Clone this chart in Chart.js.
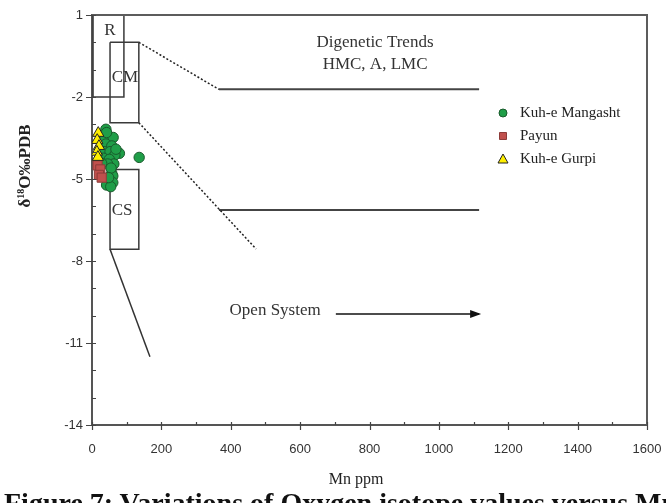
<!DOCTYPE html>
<html lang="en">
<head>
    <meta charset="UTF-8">
    <title>Mn vs δ18O</title>
    <script src="https://cdn.jsdelivr.net/npm/chart.js"></script>
    <style>
        body {
            margin: 0;
            background: #fff;
            overflow: hidden;
        }

        .wrap {
            position: relative;
            width: 666px;
            height: 503px;
            overflow: hidden;
        }

        .caption {
            position: absolute;
            left: 4px;
            top: 487px;
            font-family: "Liberation Serif", serif;
            font-weight: bold;
            font-size: 28px;
            white-space: nowrap;
            color: #111;
        }
    </style>
</head>
<body>
<div class="wrap">
    <canvas id="chart" width="666" height="503"></canvas>
    <div class="caption">Figure 7: Variations of Oxygen isotope values versus Mn</div>
</div>

<script>
    // tick labels
    const xTicks = [0, 200, 400, 600, 800, 1000, 1200, 1400, 1600];
    const yTicks = [1, -2, -5, -8, -11, -14];

    // samples (Mn ppm, δ18O)
    const mangashtMn = [40, 49, 37, 61, 40, 57, 79, 35, 52, 66, 33, 50, 63, 45, 28, 57, 60, 47, 60, 42, 54, 136, 69, 42, 55, 48];
    const mangashtO = [-3.18, -3.45, -3.51, -3.48, -3.72, -3.79, -4.06, -4.0, -4.0, -4.12, -4.24, -4.28, -4.45, -4.45, -4.43, -4.79, -4.89, -5.1, -5.13, -5.22, -5.28, -4.21, -3.91, -3.3, -4.6, -4.95];
    const payunMn = [16, 24, 20, 28];
    const payunO = [-4.5, -4.65, -4.85, -4.95];
    const gurpiMn = [18, 15, 20, 14, 17];
    const gurpiO = [-3.32, -3.58, -3.8, -4.01, -4.2];

    // field boxes and trend lines (Mn, δ18O)
    const boxRMn = [3, 92, 92, 3, 3];
    const boxRO = [1, 1, -2, -2, 1];
    const boxCMMn = [52, 135, 135, 52, 52];
    const boxCMO = [0, 0, -2.94, -2.94, 0];
    const boxCSMn = [52, 135, 135, 52, 52];
    const boxCSO = [-4.65, -4.65, -7.57, -7.57, -4.65];
    const upperDotMn = [135, 366];
    const upperDotO = [0, -1.72];
    const upperTrendMn = [366, 1116];
    const upperTrendO = [-1.72, -1.72];
    const lowerDotMn = [135, 473];
    const lowerDotO = [-2.94, -7.56];
    const lowerTrendMn = [366, 1116];
    const lowerTrendO = [-6.13, -6.13];
    const csTailMn = [52, 167];
    const csTailO = [-7.57, -11.5];
    const openArrowMn = [703, 1116];
    const openArrowO = [-9.94, -9.94];

    // text labels in the plot (Mn, δ18O)
    const notes = [
        { text: 'R', mn: 52, o: 0.42 },
        { text: 'CM', mn: 95, o: -1.3 },
        { text: 'CS', mn: 87, o: -6.17 },
        { text: 'Digenetic Trends', mn: 816, o: -0.02 },
        { text: 'HMC, A, LMC', mn: 816, o: -0.8 },
        { text: 'Open System', mn: 528, o: -9.8 }
    ];

    const pts = (xs, ys) => xs.map((v, i) => ({ x: v, y: ys[i] }));

    function shape(xs, ys, color, width, dash) {
        return {
            data: pts(xs, ys),
            showLine: true,
            borderColor: color,
            borderWidth: width,
            borderDash: dash || [],
            pointRadius: 0,
            fill: false,
            order: 10
        };
    }

    const seriesStyle = [
        { label: 'Kuh-e Mangasht', fill: '#1f9e48', stroke: '#1a5a2c', style: 'circle' },
        { label: 'Payun', fill: '#c0504d', stroke: '#8c3b39', style: 'rect' },
        { label: 'Kuh-e Gurpi', fill: '#ffef00', stroke: '#222', style: 'triangle' }
    ];

    const decor = {
        id: 'decor',
        afterDraw(chart) {
            const { ctx, chartArea: a, scales: { x, y } } = chart;
            ctx.save();

            // frame top + right
            ctx.strokeStyle = '#5c5c5c';
            ctx.lineWidth = 2;
            ctx.beginPath();
            ctx.moveTo(a.left, a.top);
            ctx.lineTo(a.right, a.top);
            ctx.lineTo(a.right, a.bottom);
            ctx.stroke();

            // ticks
            ctx.strokeStyle = '#444';
            ctx.lineWidth = 1.2;
            ctx.beginPath();
            for (let v = 0; v <= 1600; v += 100) {
                const px = Math.round(x.getPixelForValue(v)) + 0.5;
                const major = v % 200 === 0;
                ctx.moveTo(px, a.bottom - 3);
                ctx.lineTo(px, a.bottom + (major ? 5 : 0));
            }
            for (let v = -14; v <= 1; v += 1) {
                const py = Math.round(y.getPixelForValue(v)) + 0.5;
                const major = yTicks.includes(v);
                ctx.moveTo(a.left - (major ? 6 : 0), py);
                ctx.lineTo(a.left + 4, py);
            }
            ctx.stroke();

            // arrow head
            const ax = x.getPixelForValue(openArrowMn[1]);
            const ay = y.getPixelForValue(openArrowO[1]);
            ctx.fillStyle = '#111';
            ctx.beginPath();
            ctx.moveTo(ax + 2, ay);
            ctx.lineTo(ax - 9, ay - 4);
            ctx.lineTo(ax - 9, ay + 4);
            ctx.closePath();
            ctx.fill();

            // notes
            ctx.fillStyle = '#333';
            ctx.font = '17px "Liberation Serif"';
            ctx.textAlign = 'center';
            ctx.textBaseline = 'middle';
            notes.forEach(n => {
                ctx.fillText(n.text, x.getPixelForValue(n.mn), y.getPixelForValue(n.o));
            });

            // legend
            ctx.textAlign = 'left';
            ctx.font = '15px "Liberation Serif"';
            seriesStyle.forEach((s, i) => {
                const ly = 113 + i * 23;
                const lx = 503;
                ctx.fillStyle = s.fill;
                ctx.strokeStyle = s.stroke;
                ctx.lineWidth = 1;
                ctx.beginPath();
                if (s.style === 'circle') {
                    ctx.arc(lx, ly, 4, 0, Math.PI * 2);
                } else if (s.style === 'rect') {
                    ctx.rect(lx - 3.5, ly - 3.5, 7, 7);
                } else {
                    ctx.moveTo(lx, ly - 5);
                    ctx.lineTo(lx + 5, ly + 4);
                    ctx.lineTo(lx - 5, ly + 4);
                    ctx.closePath();
                }
                ctx.fill();
                ctx.stroke();
                ctx.fillStyle = '#222';
                ctx.fillText(s.label, lx + 17, ly);
            });

            // axis titles
            ctx.fillStyle = '#222';
            ctx.textAlign = 'center';
            ctx.font = '16px "Liberation Serif"';
            ctx.fillText('Mn ppm', 356, 480);

            ctx.translate(26, 166);
            ctx.rotate(-Math.PI / 2);
            ctx.font = 'bold 17px "Liberation Serif"';
            const t1 = 'δ', t2 = '18', t3 = 'O‰PDB';
            const w1 = ctx.measureText(t1).width;
            const w3 = ctx.measureText(t3).width;
            ctx.font = 'bold 10px "Liberation Serif"';
            const w2 = ctx.measureText(t2).width;
            let sx = -(w1 + w2 + w3) / 2;
            ctx.textAlign = 'left';
            ctx.font = 'bold 17px "Liberation Serif"';
            ctx.fillText(t1, sx, 0);
            ctx.font = 'bold 10px "Liberation Serif"';
            ctx.fillText(t2, sx + w1, -5);
            ctx.font = 'bold 17px "Liberation Serif"';
            ctx.fillText(t3, sx + w1 + w2, 0);

            ctx.restore();
        }
    };

    const ctx = document.getElementById('chart').getContext('2d');
    const chart = new Chart(ctx, {
        type: 'scatter',
        data: {
            datasets: [
                {
                    label: 'Kuh-e Gurpi',
                    data: pts(gurpiMn, gurpiO),
                    pointStyle: 'triangle',
                    pointRadius: 6.5,
                    backgroundColor: seriesStyle[2].fill,
                    borderColor: seriesStyle[2].stroke,
                    borderWidth: 1,
                    order: 1
                },
                {
                    label: 'Payun',
                    data: pts(payunMn, payunO),
                    pointStyle: 'rect',
                    pointRadius: 6.5,
                    backgroundColor: seriesStyle[1].fill,
                    borderColor: seriesStyle[1].stroke,
                    borderWidth: 1,
                    order: 2
                },
                {
                    label: 'Kuh-e Mangasht',
                    data: pts(mangashtMn, mangashtO),
                    pointStyle: 'circle',
                    pointRadius: 5.2,
                    backgroundColor: seriesStyle[0].fill,
                    borderColor: seriesStyle[0].stroke,
                    borderWidth: 1,
                    order: 3
                },
                shape(boxRMn, boxRO, '#3a3a3a', 1.5),
                shape(boxCMMn, boxCMO, '#3a3a3a', 1.5),
                shape(boxCSMn, boxCSO, '#3a3a3a', 1.5),
                shape(upperDotMn, upperDotO, '#222', 1.5, [2, 2]),
                shape(lowerDotMn, lowerDotO, '#222', 1.5, [2, 2]),
                shape(upperTrendMn, upperTrendO, '#444', 2),
                shape(lowerTrendMn, lowerTrendO, '#444', 2),
                shape(csTailMn, csTailO, '#333', 1.5),
                shape(openArrowMn, openArrowO, '#111', 1.5)
            ]
        },
        options: {
            responsive: false,
            animation: false,
            layout: { padding: { top: 15, right: 19, left: 0, bottom: 0 } },
            plugins: {
                legend: { display: false },
                tooltip: { enabled: false }
            },
            scales: {
                x: {
                    type: 'linear',
                    min: 0,
                    max: 1600,
                    afterBuildTicks: s => { s.ticks = xTicks.map(v => ({ value: v })); },
                    afterFit: s => { s.height = 78; s.paddingLeft = 0; s.paddingRight = 0; },
                    grid: { display: false, drawTicks: false },
                    border: { color: '#555', width: 2 },
                    ticks: {
                        padding: 17,
                        color: '#333',
                        font: { family: 'Liberation Sans', size: 13 },
                        maxRotation: 0,
                        callback: v => String(v)
                    }
                },
                y: {
                    type: 'linear',
                    min: -14,
                    max: 1,
                    afterBuildTicks: s => { s.ticks = yTicks.map(v => ({ value: v })); },
                    afterFit: s => { s.width = 92; s.paddingTop = 0; s.paddingBottom = 0; },
                    grid: { display: false, drawTicks: false },
                    border: { color: '#555', width: 2 },
                    ticks: {
                        padding: 9,
                        color: '#333',
                        font: { family: 'Liberation Sans', size: 13 },
                        callback: v => String(v)
                    }
                }
            }
        },
        plugins: [decor]
    });
</script>
</body>
</html>
